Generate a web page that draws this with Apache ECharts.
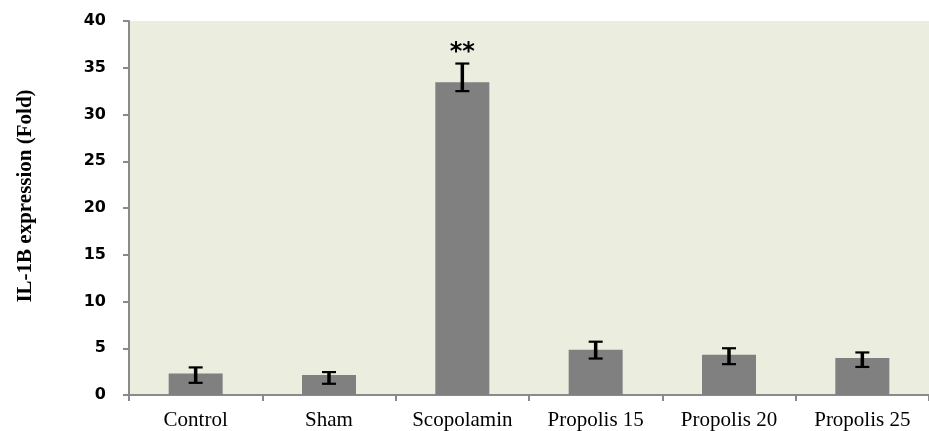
<!DOCTYPE html>
<html>
<head>
<meta charset="utf-8">
<script src="https://cdn.jsdelivr.net/npm/echarts@6/dist/echarts.min.js"></script>
<style>html,body{margin:0;padding:0;background:#fff}#c{width:929px;height:431px}</style>
</head>
<body>
<div id="c"></div>
<script>
const categories = ['Control', 'Sham', 'Scopolamin', 'Propolis 15', 'Propolis 20', 'Propolis 25'];
const values = [2.3, 2.15, 33.45, 4.85, 4.3, 3.95];
const errLow = [1.3, 1.2, 32.5, 3.9, 3.3, 3.0];
const errHigh = [2.95, 2.45, 35.45, 5.7, 5.0, 4.55];
const marks = ['', '', '**', '', '', ''];
const yTicks = [0, 5, 10, 15, 20, 25, 30, 35, 40];
const yTitle = 'IL-1B expression (Fold)';

const chart = echarts.init(document.getElementById('c'));
const errData = categories.map((c, i) => [i, errLow[i], errHigh[i]]);
chart.setOption({
  animation: false,
  grid: { left: 129, top: 21, bottom: 35, width: 810, show: true, backgroundColor: '#EBEEDF', borderWidth: 0 },
  graphic: [{
    type: 'text', x: 26, y: 196, rotation: Math.PI / 2,
    style: { text: yTitle, fontFamily: 'Liberation Serif', fontWeight: 'bold', fontSize: 21, fill: '#000',
      align: 'center', verticalAlign: 'middle' }
  }],
  xAxis: {
    type: 'category', data: categories,
    axisLine: { lineStyle: { color: '#8a8a8a', width: 2 } },
    axisTick: { show: true, length: 6, lineStyle: { color: '#8a8a8a', width: 2 } },
    axisLabel: { color: '#000', fontFamily: 'Liberation Serif', fontSize: 21, margin: 15 }
  },
  yAxis: {
    type: 'value', min: 0, max: 40, interval: 5,
    axisLine: { show: true, lineStyle: { color: '#8a8a8a', width: 2 } },
    axisTick: { show: true, length: 6, lineStyle: { color: '#8a8a8a', width: 2 } },
    splitLine: { show: false },
    axisLabel: { color: '#000', fontFamily: 'DejaVu Sans', fontWeight: 'bold', fontSize: 16, margin: 23,
      formatter: v => yTicks.includes(v) ? String(v) : '' }
  },
  series: [
    { type: 'bar', data: values, barWidth: 54, itemStyle: { color: '#808080' }, z: 2 },
    {
      type: 'custom', data: errData, z: 3,
      renderItem: function (params, api) {
        const x = api.value(0);
        const lo = api.coord([x, api.value(1)]);
        const hi = api.coord([x, api.value(2)]);
        const w = 7;
        const stem = { stroke: '#000', lineWidth: 3.5 };
        const cap = { stroke: '#000', lineWidth: 2.2 };
        const children = [
          { type: 'line', shape: { x1: lo[0], y1: lo[1], x2: hi[0], y2: hi[1] }, style: stem },
          { type: 'line', shape: { x1: lo[0] - w, y1: lo[1], x2: lo[0] + w, y2: lo[1] }, style: cap },
          { type: 'line', shape: { x1: hi[0] - w, y1: hi[1], x2: hi[0] + w, y2: hi[1] }, style: cap }
        ];
        const m = marks[params.dataIndex];
        if (m) {
          children.push({ type: 'text', style: { text: m, x: hi[0], y: hi[1] + 1,
            align: 'center', verticalAlign: 'bottom', fill: '#000', fontSize: 24, fontWeight: 'bold', fontFamily: 'DejaVu Sans' } });
        }
        return { type: 'group', children };
      }
    }
  ]
});
</script>
</body>
</html>
